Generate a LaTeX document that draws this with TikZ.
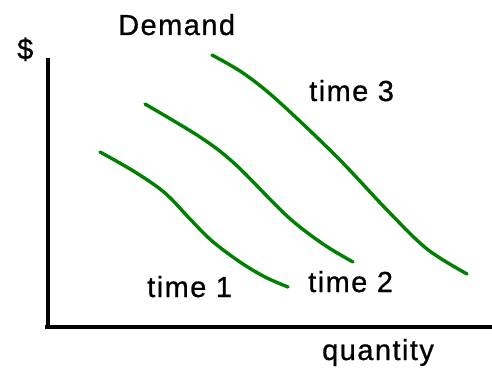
\documentclass[tikz,border=0pt]{standalone}
\usepackage{fontspec}
\setmainfont{Liberation Sans}[LetterSpace=5, FakeBold=0.8]
\usepackage{tikz}
\usetikzlibrary{positioning}
\definecolor{ink}{HTML}{000000}
\definecolor{curvegreen}{HTML}{008000}
\tikzset{
  axisline/.style={draw=ink, line width=3.6pt},
  demandcurve/.style={draw=curvegreen, line width=3.4pt, line cap=round, line join=round},
  lbl/.style={font=\fontsize{29}{32}\selectfont, text=ink, inner sep=0pt, anchor=base west}
}

\begin{document}
\begin{tikzpicture}[x=1pt, y=-1pt]
  \useasboundingbox (0,0) rectangle (492,369);

  % axes
  \coordinate (origin) at (48,327);
  \coordinate (ytop) at (48,58);
  \coordinate (xend) at (492,327);
  \draw[axisline] (ytop) -- ([yshift=1.8pt]origin);
  \draw[axisline] ([xshift=-3pt]origin) -- (xend);

  % demand curves
  \draw[demandcurve] plot[smooth, tension=0.55] coordinates
    {(100,152) (135,172) (165,193) (190,219) (212,241) (240,262) (265,277) (288,287)};
  \draw[demandcurve] plot[smooth, tension=0.55] coordinates
    {(145,104) (200,137) (235,164) (287,216) (323,244) (353,262)};
  \draw[demandcurve] plot[smooth, tension=0.55] coordinates
    {(212,55) (243,73) (277,100) (337,157) (387,210) (427,249) (467,274)};

  % labels
  \node[lbl] (title) at (118,35) {Demand};
  \node[lbl] (dollar) at (17,59) {\$};
  \node[lbl] (qty) at (322,360) {quantity};
  \node[lbl] (t1) at (147,297) {time 1};
  \node[lbl] (t2) at (308,292) {time 2};
  \node[lbl] (t3) at (309,101) {time 3};
\end{tikzpicture}
\end{document}
